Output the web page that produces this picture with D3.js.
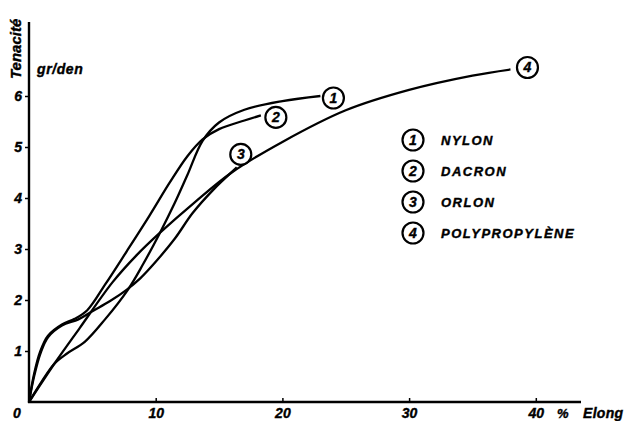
<!DOCTYPE html>
<html>
<head>
<meta charset="utf-8">
<script src="https://cdn.jsdelivr.net/npm/d3@7"></script>
<style>
  body { margin: 0; background: #fff; }
  svg text { font-family: "Liberation Sans", Arial, sans-serif; font-weight: bold; font-style: italic; fill: #000; stroke: #000; stroke-width: 0.4px; }
</style>
</head>
<body>
<svg id="chart" width="627" height="421"></svg>
<script>
// --- data (elongation %, tenacity gr/den) ---
const fibres = ["NYLON", "DACRON", "ORLON", "POLYPROPYLÈNE"];
const nylon = [[0,0],[1,0.4],[2,0.75],[3,0.95],[4.4,1.18],[6,1.62],[7.8,2.2],[9,2.7],[10.3,3.3],[11.5,3.9],[12.5,4.45],[13.7,5.12],[15,5.48],[17,5.73],[20,5.9],[23,6.0]];
const dacron = [[0,0],[0.4,0.55],[0.9,1.0],[1.5,1.3],[2.6,1.52],[3.6,1.63],[4.6,1.8],[6,2.3],[7.7,2.95],[9.5,3.65],[11.1,4.3],[12.5,4.82],[13.7,5.15],[15,5.35],[17,5.52],[18.3,5.62]];
const orlon = [[0,0],[0.4,0.5],[0.9,0.95],[1.5,1.27],[2.6,1.5],[3.9,1.62],[5,1.78],[6.4,1.98],[7.7,2.2],[8.8,2.43],[10,2.75],[11.5,3.2],[12.9,3.7],[14.5,4.15],[16.4,4.6]];
const polyprop = [[0,0],[2,0.75],[4,1.45],[6.6,2.35],[8.5,2.88],[10.3,3.31],[13.1,3.92],[16,4.5],[20,5.1],[25,5.72],[30,6.12],[35,6.4],[38,6.52]];
const series = [nylon, dacron, orlon, polyprop];
const labelOffsets = [[13,2],[15,2],[4,-13],[17,-2]]; // circle position relative to curve end
const xTicks = [10, 20, 30, 40];
const yTicks = [1, 2, 3, 4, 5, 6];

const svg = d3.select("#chart");
const x = d3.scaleLinear().domain([0, 40]).range([29, 535.8]);
const y = d3.scaleLinear().domain([0, 6]).range([402, 96]);

// axes
const yAxis = svg.append("g").attr("transform", `translate(${x(0)},0)`)
  .call(d3.axisLeft(y).tickValues(yTicks).tickSize(4).tickPadding(3).tickFormat(d3.format("d")));
yAxis.select(".domain").remove();
yAxis.selectAll("line").attr("stroke", "#000").attr("stroke-width", 1.5);
yAxis.selectAll("text").attr("font-size", 14).attr("font-family", null);

const xAxis = svg.append("g").attr("transform", `translate(0,${y(0)})`)
  .call(d3.axisBottom(x).tickValues(xTicks).tickSize(-4).tickPadding(6).tickFormat(d3.format("d")));
xAxis.select(".domain").remove();
xAxis.selectAll("line").attr("stroke", "#000").attr("stroke-width", 1.5);
xAxis.selectAll("text").attr("font-size", 14).attr("font-family", null);

svg.append("line").attr("x1", x(0)).attr("x2", x(0)).attr("y1", 22).attr("y2", y(0) + 1)
  .attr("stroke", "#000").attr("stroke-width", 2.4);
svg.append("line").attr("x1", x(0) - 1).attr("x2", 581).attr("y1", y(0)).attr("y2", y(0))
  .attr("stroke", "#000").attr("stroke-width", 2.4);

svg.append("text").attr("x", 13).attr("y", 418).attr("font-size", 14).text("0");
svg.append("text").attr("x", 557).attr("y", 418).attr("font-size", 13).text("%");
svg.append("text").attr("x", 583).attr("y", 418).attr("font-size", 14).attr("letter-spacing", 0.3).text("Elong");
svg.append("text").attr("x", 37).attr("y", 74).attr("font-size", 14).attr("letter-spacing", 0.6).text("gr/den");
svg.append("text").attr("transform", "translate(21,79) rotate(-90)").attr("font-size", 15).text("Tenacité");

// curves
const line = d3.line().x(d => x(d[0])).y(d => y(d[1])).curve(d3.curveCatmullRom.alpha(0.5));
svg.append("g").selectAll("path").data(series).join("path")
  .attr("d", line).attr("fill", "none").attr("stroke", "#000").attr("stroke-width", 2.3);

// numbered circles at curve ends
function marker(g, cx, cy, n){
  g.append("circle").attr("cx", cx).attr("cy", cy).attr("r", 10.5)
    .attr("fill", "#fff").attr("stroke", "#000").attr("stroke-width", 2.2);
  g.append("text").attr("x", cx).attr("y", cy + 5).attr("text-anchor", "middle")
    .attr("font-size", 14).text(n);
}
const marks = svg.append("g");
series.forEach((s, i) => {
  const last = s[s.length - 1];
  marker(marks, x(last[0]) + labelOffsets[i][0], y(last[1]) + labelOffsets[i][1], i + 1);
});

// legend
const legend = svg.append("g");
fibres.forEach((f, i) => {
  const ly = 140 + i * 31;
  marker(legend, 413, ly, i + 1);
  legend.append("text").attr("x", 441).attr("y", ly + 5).attr("font-size", 13)
    .attr("letter-spacing", 1.5).text(f);
});
</script>
</body>
</html>
